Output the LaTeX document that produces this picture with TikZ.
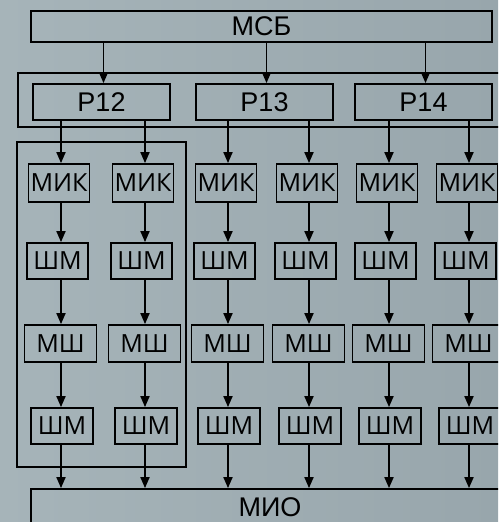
\documentclass[tikz,border=0pt]{standalone}
\usepackage{fontspec}
\setmainfont{Liberation Sans}
\newfontfamily\cellfont{Open Sans}
\usetikzlibrary{arrows.meta}
\definecolor{bgleft}{RGB}{166,180,185}
\definecolor{bgright}{RGB}{152,166,172}

\begin{document}
\begin{tikzpicture}[x=1pt,y=-1pt,
  blk/.style={draw, line width=1.8pt, inner sep=0pt, font=\fontsize{27}{27}\selectfont},
  cell/.style={draw, line width=1.8pt, inner sep=0pt, font=\cellfont\fontsize{25}{25}\selectfont},
  arr/.style={line width=1.8pt, -{Triangle[width=9pt,length=11pt]}}]
% Background
\clip (0,0) rectangle (498,522);
\fill[left color=bgleft, right color=bgright] (0,0) rectangle (498,522);

% Bus blocks
\node[blk, minimum width=461pt, minimum height=31pt] (msb) at (261.5,26.5) {МСБ};
\node[blk, minimum width=478pt, minimum height=36pt] (mio) at (270,507) {МИО};

% Registers in their frame
\draw[line width=1.8pt] (18,73) rectangle (507,127);
\foreach \name/\x/\t in {p12/101.5/12, p13/264.5/13, p14/423.5/14}{
  \node[blk, minimum width=137pt, minimum height=36pt] (\name) at (\x,102) {Р\t};
  \draw[arr] ([xshift=2pt]msb.south -| \name.north) -- ([xshift=2pt]\name.north);
}

% Frame round the first two columns
\draw[line width=1.8pt] (17,142) rectangle (186,467);

% Six columns of cells
\foreach \i/\x/\src in {1/61/p12, 2/145/p12, 3/228/p13, 4/309/p13, 5/389/p14, 6/469/p14}{
  \coordinate (c\i) at (\x,0);
  \node[cell, minimum width=61pt, minimum height=38pt] (mik\i) at (\x-2,183) {МИК};
  \node[cell, minimum width=61pt, minimum height=36pt] (shma\i) at (\x-3.5,261) {ШМ};
  \node[cell, minimum width=72pt, minimum height=37pt] (msh\i) at (\x-0.5,343.5) {МШ};
  \node[cell, minimum width=62pt, minimum height=36pt] (shmb\i) at (\x+1,426) {ШМ};
  \draw[arr] (\src.south -| c\i) -- (mik\i.north -| c\i);
  \draw[arr] (mik\i.south -| c\i) -- (shma\i.north -| c\i);
  \draw[arr] (shma\i.south -| c\i) -- (msh\i.north -| c\i);
  \draw[arr] (msh\i.south -| c\i) -- (shmb\i.north -| c\i);
  \draw[arr] (shmb\i.south -| c\i) -- (mio.north -| c\i);
}
\end{tikzpicture}
\end{document}
